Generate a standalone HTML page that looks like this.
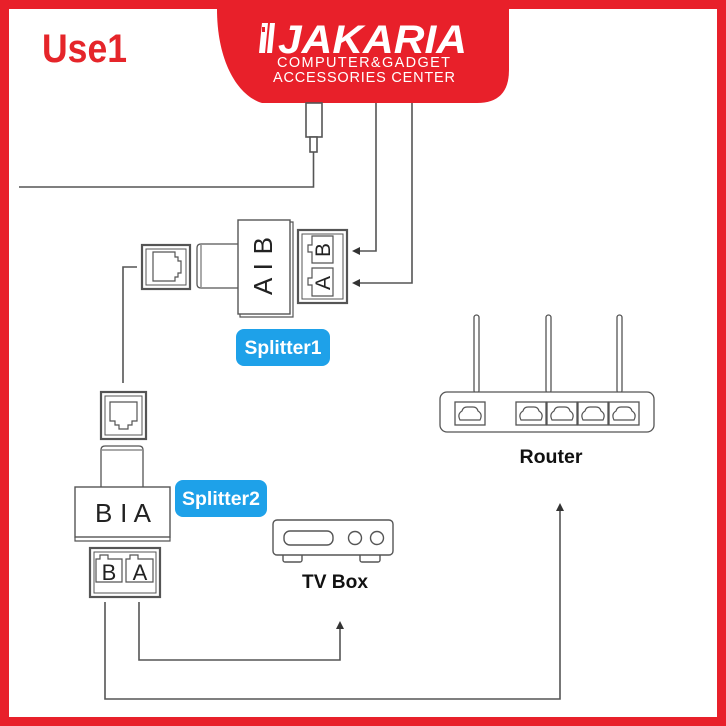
<!DOCTYPE html>
<html>
<head>
<meta charset="utf-8">
<style>
html,body{margin:0;padding:0;background:#fff;}
svg{display:block;}
text{font-family:"Liberation Sans",sans-serif;}
</style>
</head>
<body>
<svg width="726" height="726" viewBox="0 0 726 726" xmlns="http://www.w3.org/2000/svg">
<rect x="0" y="0" width="726" height="726" fill="#fff"/>
<!-- red frame -->
<rect x="0" y="0" width="726" height="9" fill="#e8202a"/>
<rect x="0" y="0" width="9" height="726" fill="#e8202a"/>
<rect x="717" y="0" width="9" height="726" fill="#e8202a"/>
<rect x="0" y="717" width="726" height="9" fill="#e8202a"/>

<!-- banner -->
<path d="M217,0 H509 V70 Q509,103 477,103 H262 C238,96 217,62 217,9 Z" fill="#e8202a"/>
<!-- logo mark -->
<path d="M262,23 L268,23 L265,53 L259,53 Z" fill="#fff"/>
<path d="M270,23 L275,23 L272,53 L267,53 Z" fill="#fff"/>
<rect x="262" y="27" width="3" height="5" fill="#e8202a"/>
<text x="278" y="53" font-size="40" font-weight="bold" font-style="italic" fill="#fff" textLength="189" lengthAdjust="spacingAndGlyphs">JAKARIA</text>
<text x="277" y="67" font-size="14.5" fill="#fff" textLength="173" lengthAdjust="spacing">COMPUTER&amp;GADGET</text>
<text x="273" y="82" font-size="14.5" fill="#fff" textLength="182" lengthAdjust="spacing">ACCESSORIES CENTER</text>

<!-- Use1 -->
<text x="42" y="62" font-size="40" font-weight="bold" fill="#e5252a" textLength="85" lengthAdjust="spacingAndGlyphs">Use1</text>

<g fill="none" stroke="#555" stroke-width="1.6">
  <!-- plug from top -->
  <rect x="306" y="103" width="16" height="34" fill="#fff"/>
  <rect x="310" y="137" width="7" height="15" fill="#fff"/>
  <path d="M313.5,152 V187 H19"/>
  <!-- two lines to splitter1 -->
  <path d="M376,103 V251 H358"/>
  <path d="M412,103 V283 H358"/>
  <!-- line between splitters -->
  <path d="M137,267 H123 V383"/>
  <!-- bottom lines -->
  <path d="M105,602 V699 H560 V510"/>
  <path d="M139,602 V660 H340 V628"/>
</g>
<!-- arrowheads -->
<g fill="#333">
  <path d="M352,251 L360,247 L360,255 Z"/>
  <path d="M352,283 L360,279 L360,287 Z"/>
  <path d="M560,503 L556,511 L564,511 Z"/>
  <path d="M340,621 L336,629 L344,629 Z"/>
</g>

<!-- Splitter1 -->
<g fill="#fff" stroke="#555">
  <!-- left jack -->
  <rect x="142" y="245" width="48" height="44" stroke-width="2.2"/>
  <rect x="146" y="249" width="40" height="36" stroke-width="1"/>
  <path d="M153,252 H175 V257 H178 V261 H181 V273 H178 V277 H175 V281 H153 Z" stroke-width="1.2"/>
  <!-- plug -->
  <path d="M238,244 H201 Q197,244 197,248 V284 Q197,288 201,288 H238" stroke-width="1.3"/>
  <line x1="201" y1="245" x2="201" y2="287" stroke-width="1"/>
  <!-- body -->
  <path d="M290,222 H293 V317 H240 V314" fill="none" stroke-width="1.2"/>
  <rect x="238" y="220" width="52" height="94" stroke-width="1.4"/>
  <!-- right jack -->
  <rect x="298" y="230" width="49" height="73" stroke-width="2.2"/>
  <rect x="302" y="234" width="41" height="65" stroke-width="1"/>
  <path d="M312,236 H333 V263 H312 V252 H308 V245 H312 Z" stroke-width="1.2"/>
  <path d="M312,268 H333 V296 H312 V285 H308 V278 H312 Z" stroke-width="1.2"/>
</g>
<text transform="translate(272,266) rotate(-90)" font-size="26" text-anchor="middle" fill="#222" textLength="58" lengthAdjust="spacing">A I B</text>
<text transform="translate(330,250) rotate(-90)" font-size="21" text-anchor="middle" fill="#222">B</text>
<text transform="translate(330,283) rotate(-90)" font-size="21" text-anchor="middle" fill="#222">A</text>

<!-- Splitter1 label -->
<rect x="236" y="329" width="94" height="37" rx="8" fill="#1ea1e9"/>
<text x="283" y="354" font-size="19" font-weight="bold" fill="#fff" text-anchor="middle" textLength="77" lengthAdjust="spacingAndGlyphs">Splitter1</text>

<!-- Splitter2 -->
<g fill="#fff" stroke="#555">
  <!-- top jack -->
  <rect x="101" y="392" width="45" height="47" stroke-width="2.2"/>
  <rect x="105" y="396" width="37" height="39" stroke-width="1"/>
  <path d="M110,402 H137 V421 H132 V425 H128 V429 H119 V425 H115 V421 H110 Z" stroke-width="1.2"/>
  <!-- plug -->
  <path d="M101,487 V450 Q101,446 105,446 H139 Q143,446 143,450 V487" stroke-width="1.3"/>
  <line x1="102" y1="450" x2="142" y2="450" stroke-width="1"/>
  <!-- body -->
  <path d="M75,537 V541 H170 V537" fill="none" stroke-width="1.2"/>
  <rect x="75" y="487" width="95" height="50" stroke-width="1.4"/>
  <!-- bottom jack -->
  <rect x="90" y="548" width="70" height="49" stroke-width="2.2"/>
  <rect x="94" y="552" width="62" height="41" stroke-width="1"/>
  <path d="M96,559 H100 V555 H108 V559 H122 V582 H96 Z" stroke-width="1.2"/>
  <path d="M126,559 H130 V555 H138 V559 H153 V582 H126 Z" stroke-width="1.2"/>
</g>
<text x="123" y="522" font-size="26" text-anchor="middle" fill="#222" textLength="56" lengthAdjust="spacing">B I A</text>
<text x="109" y="580" font-size="22" text-anchor="middle" fill="#222">B</text>
<text x="140" y="580" font-size="22" text-anchor="middle" fill="#222">A</text>

<!-- Splitter2 label -->
<rect x="175" y="480" width="92" height="37" rx="8" fill="#1ea1e9"/>
<text x="221" y="505" font-size="19" font-weight="bold" fill="#fff" text-anchor="middle" textLength="78" lengthAdjust="spacingAndGlyphs">Splitter2</text>

<!-- TV Box -->
<g fill="#fff" stroke="#555" stroke-width="1.4">
  <rect x="283" y="553" width="19" height="9" rx="2"/>
  <rect x="360" y="553" width="20" height="9" rx="2"/>
  <rect x="273" y="520" width="120" height="35" rx="4"/>
  <rect x="284" y="531" width="49" height="14" rx="6"/>
  <circle cx="355" cy="538" r="6.5"/>
  <circle cx="377" cy="538" r="6.5"/>
</g>
<text x="335" y="588" font-size="19" font-weight="bold" fill="#111" text-anchor="middle" textLength="66" lengthAdjust="spacingAndGlyphs">TV Box</text>

<!-- Router -->
<g fill="#fff" stroke="#555" stroke-width="1.3">
  <rect x="474" y="315" width="5" height="78" rx="2.5"/>
  <rect x="546" y="315" width="5" height="78" rx="2.5"/>
  <rect x="617" y="315" width="5" height="78" rx="2.5"/>
  <rect x="440" y="392" width="214" height="40" rx="7"/>
  <rect x="455" y="402" width="30" height="23"/>
  <rect x="516" y="402" width="30" height="23"/>
  <rect x="547" y="402" width="30" height="23"/>
  <rect x="578" y="402" width="30" height="23"/>
  <rect x="609" y="402" width="30" height="23"/>
</g>
<g fill="none" stroke="#555" stroke-width="1.2">
  <path d="M460,420 Q457,414 462,411 Q463,407 467,407 H473 Q477,407 478,411 Q483,414 480,420 Z"/>
  <path d="M521,420 Q518,414 523,411 Q524,407 528,407 H534 Q538,407 539,411 Q544,414 541,420 Z"/>
  <path d="M552,420 Q549,414 554,411 Q555,407 559,407 H565 Q569,407 570,411 Q575,414 572,420 Z"/>
  <path d="M583,420 Q580,414 585,411 Q586,407 590,407 H596 Q600,407 601,411 Q606,414 603,420 Z"/>
  <path d="M614,420 Q611,414 616,411 Q617,407 621,407 H627 Q631,407 632,411 Q637,414 634,420 Z"/>
</g>
<text x="551" y="463" font-size="19" font-weight="bold" fill="#111" text-anchor="middle" textLength="63" lengthAdjust="spacingAndGlyphs">Router</text>
</svg>
</body>
</html>
